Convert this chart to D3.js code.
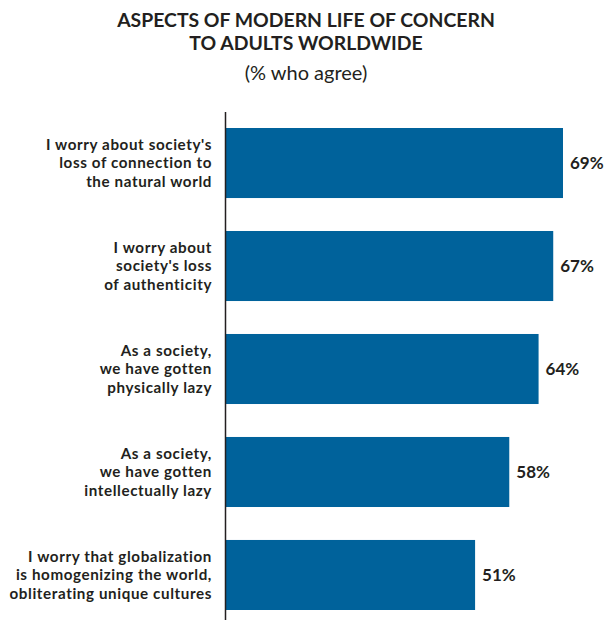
<!DOCTYPE html>
<html>
<head>
<meta charset="utf-8">
<script src="https://cdn.jsdelivr.net/npm/d3@7"></script>
<style>
  html, body { margin: 0; padding: 0; background: #fff; }
  svg { display: block; }
</style>
</head>
<body>
<svg id="chart" width="604" height="620"></svg>
<script>
// Survey statements (one entry per line of the wrapped label)
const categories = [
  ["I worry about society's", "loss of connection to", "the natural world"],
  ["I worry about", "society's loss", "of authenticity"],
  ["As a society,", "we have gotten", "physically lazy"],
  ["As a society,", "we have gotten", "intellectually lazy"],
  ["I worry that globalization", "is homogenizing the world,", "obliterating unique cultures"]
];
const values = [69, 67, 64, 58, 51];
const titleLines = ["ASPECTS OF MODERN LIFE OF CONCERN", "TO ADULTS WORLDWIDE"];
const subtitle = "(% who agree)";

const svg = d3.select("#chart");
const font = "Lato, 'Open Sans', sans-serif";
const ink = "#231f20";
const barColor = "#00629b";

const axisX = 226;
const x = d3.scaleLinear().domain([0, 69]).range([axisX, 563]);
const y = d3.scaleBand()
  .domain(d3.range(categories.length))
  .range([128, 610])
  .paddingInner(0.32)
  .paddingOuter(0);

// Title block
const cx = 306;
svg.selectAll("text.title")
  .data(titleLines)
  .join("text")
  .attr("class", "title")
  .attr("x", cx)
  .attr("y", (d, i) => 27 + i * 23)
  .attr("text-anchor", "middle")
  .attr("font-family", font)
  .attr("font-weight", 700)
  .attr("font-size", 19.4)
  .attr("fill", ink)
  .text(d => d);

svg.append("text")
  .attr("x", cx)
  .attr("y", 80)
  .attr("text-anchor", "middle")
  .attr("font-family", font)
  .attr("font-size", 20)
  .attr("fill", ink)
  .text(subtitle);

// Bars
svg.selectAll("rect.bar")
  .data(values)
  .join("rect")
  .attr("class", "bar")
  .attr("x", x(0))
  .attr("y", (d, i) => y(i))
  .attr("width", d => x(d) - x(0))
  .attr("height", y.bandwidth())
  .attr("fill", barColor);

// Value labels
svg.selectAll("text.value")
  .data(values)
  .join("text")
  .attr("class", "value")
  .attr("x", d => x(d) + 7)
  .attr("y", (d, i) => y(i) + y.bandwidth() / 2)
  .attr("dy", "0.36em")
  .attr("font-family", font)
  .attr("font-weight", 700)
  .attr("font-size", 17)
  .attr("fill", ink)
  .text(d => d + "%");

// Category labels, right-aligned against the axis
const lineH = 18.3;
const labels = svg.selectAll("text.cat")
  .data(categories)
  .join("text")
  .attr("class", "cat")
  .attr("text-anchor", "end")
  .attr("font-family", font)
  .attr("font-weight", 700)
  .attr("font-size", 15.2)
  .attr("letter-spacing", 0.6)
  .attr("fill", ink);

labels.each(function(lines, i) {
  const mid = y(i) + y.bandwidth() / 2;
  d3.select(this).selectAll("tspan")
    .data(lines)
    .join("tspan")
    .attr("x", 212)
    .attr("y", (d, j) => mid + (j - (lines.length - 1) / 2) * lineH)
    .attr("dy", "0.36em")
    .text(d => d);
});

// Vertical axis line
svg.append("line")
  .attr("x1", axisX - 0.5)
  .attr("x2", axisX - 0.5)
  .attr("y1", 112)
  .attr("y2", 620)
  .attr("stroke", ink)
  .attr("stroke-width", 1.5);
</script>
</body>
</html>
